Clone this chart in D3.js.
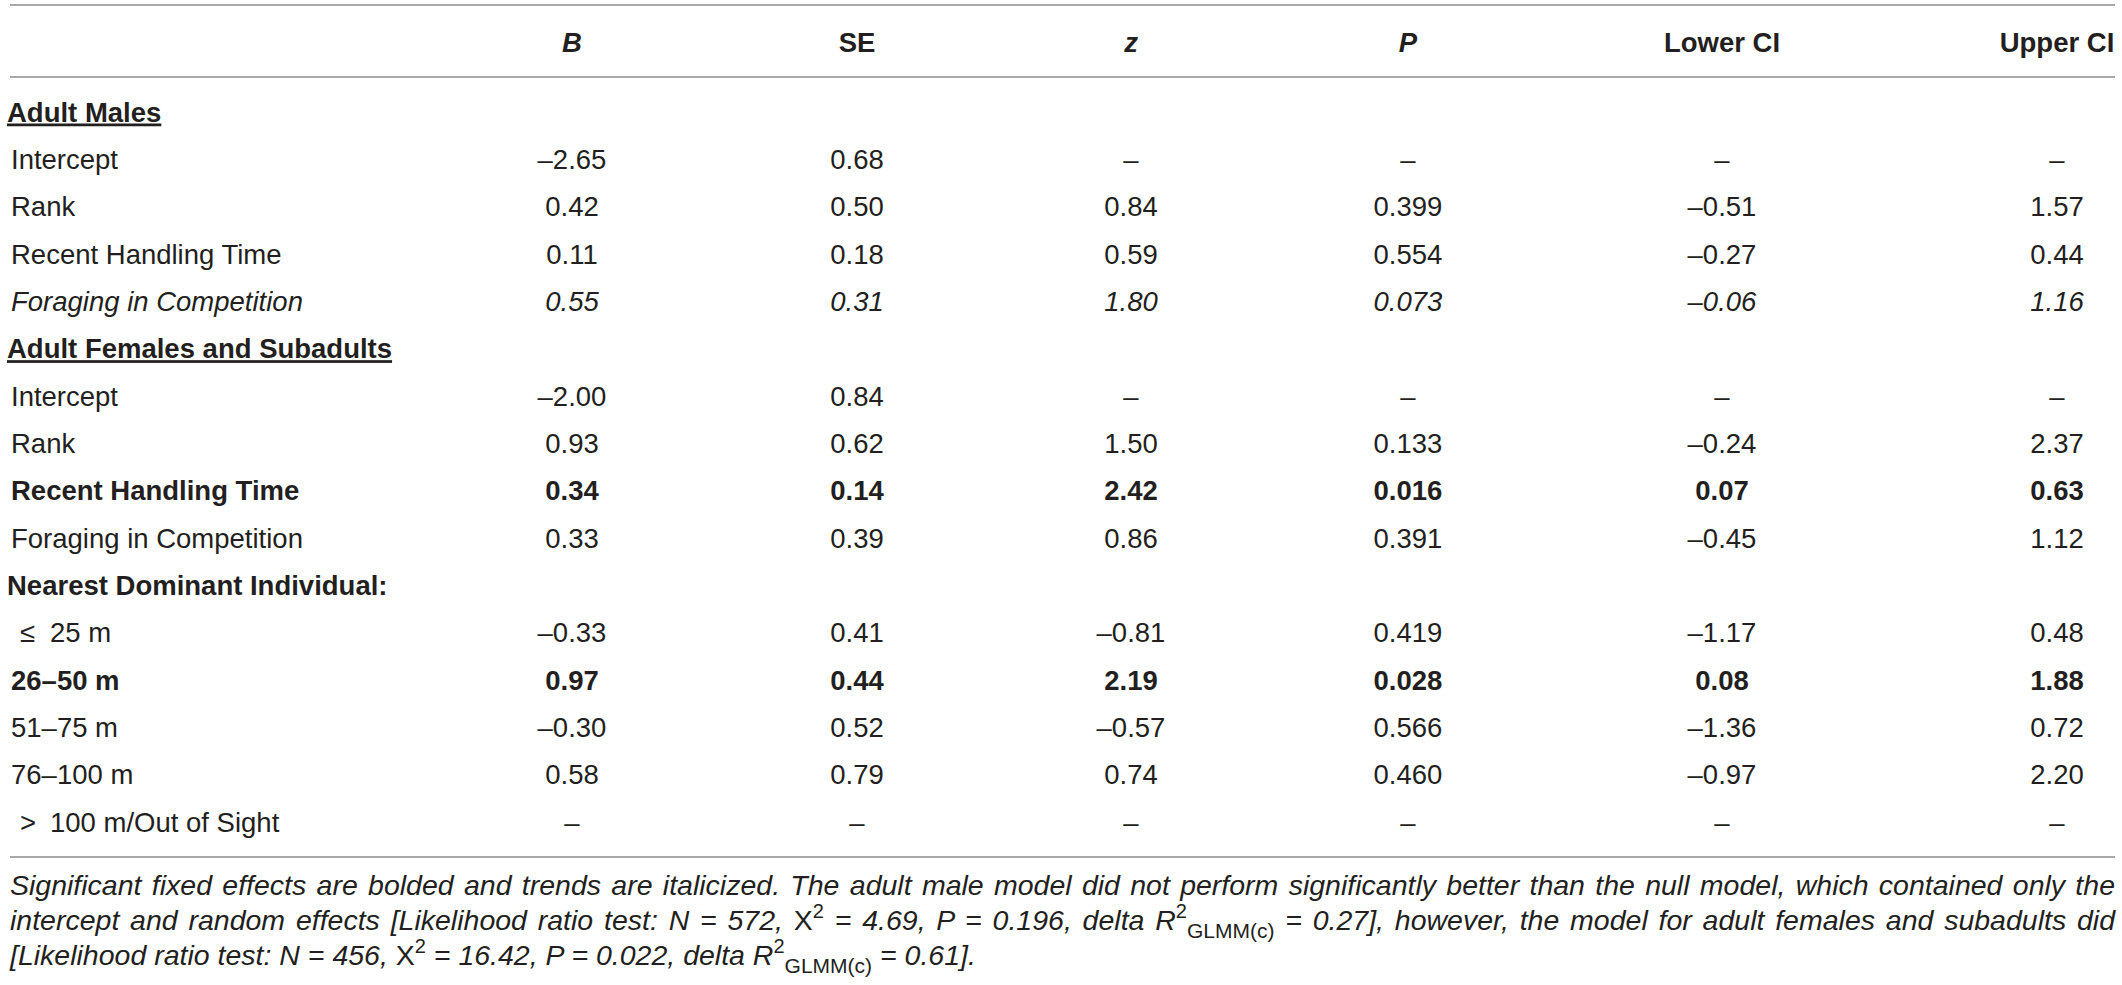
<!DOCTYPE html>
<html>
<head>
<meta charset="utf-8">
<script src="https://cdn.jsdelivr.net/npm/d3@7"></script>
<style>
  html, body { margin: 0; padding: 0; background: #fff; }
  svg { display: block; font-family: "Liberation Sans", Arial, Helvetica, sans-serif; }
</style>
</head>
<body>
<svg id="chart" width="2122" height="985"></svg>
<script>
// table content
const columns = ['B', 'SE', 'z', 'P', 'Lower CI', 'Upper CI'];

const rowLabels = [
  'Adult Males', 'Intercept', 'Rank', 'Recent Handling Time', 'Foraging in Competition',
  'Adult Females and Subadults', 'Intercept', 'Rank', 'Recent Handling Time', 'Foraging in Competition',
  'Nearest Dominant Individual:', '\u2264 25 m', '26\u201350 m', '51\u201375 m', '76\u2013100 m', '> 100 m/Out of Sight'
];
// section = underlined group, subhead = bold heading, trend = italic, significant = bold
const rowKind = [
  'section', 'plain', 'plain', 'plain', 'trend',
  'section', 'plain', 'plain', 'significant', 'plain',
  'subhead', 'plain', 'significant', 'plain', 'plain', 'plain'
];

// null = "–" (not estimated)
const valB     = [null, -2.65, 0.42, 0.11, 0.55, null, -2.00, 0.93, 0.34, 0.33, null, -0.33, 0.97, -0.30, 0.58, null];
const valSE    = [null, 0.68, 0.50, 0.18, 0.31, null, 0.84, 0.62, 0.14, 0.39, null, 0.41, 0.44, 0.52, 0.79, null];
const valZ     = [null, null, 0.84, 0.59, 1.80, null, null, 1.50, 2.42, 0.86, null, -0.81, 2.19, -0.57, 0.74, null];
const valP     = [null, null, 0.399, 0.554, 0.073, null, null, 0.133, 0.016, 0.391, null, 0.419, 0.028, 0.566, 0.460, null];
const valLower = [null, null, -0.51, -0.27, -0.06, null, null, -0.24, 0.07, -0.45, null, -1.17, 0.08, -1.36, -0.97, null];
const valUpper = [null, null, 1.57, 0.44, 1.16, null, null, 2.37, 0.63, 1.12, null, 0.48, 1.88, 0.72, 2.20, null];

const footnoteLines = [
  [['Significant fixed effects are bolded and trends are italicized. The adult male model did not perform significantly better than the null model, which contained only the', 'n']],
  [['intercept and random effects [Likelihood ratio test: N = 572, ', 'n'], ['\u03A7', 'up'], ['2', 'sup'], [' = 4.69, P = 0.196, delta R', 'n'], ['2', 'sup'], ['GLMM(c)', 'sub'], [' = 0.27], however, the model for adult females and subadults did', 'n']],
  [['[Likelihood ratio test: N = 456, ', 'n'], ['\u03A7', 'up'], ['2', 'sup'], [' = 16.42, P = 0.022, delta R', 'n'], ['2', 'sup'], ['GLMM(c)', 'sub'], [' = 0.61].', 'n']]
];

const svg = d3.select('#chart');
const ink = '#231f20';
const rule = '#a8a8a8';
const left = 10, right = 2115;
const fontSize = 27.5;
const noteSize = 28.5;

const locale = d3.formatLocale({ decimal: '.', thousands: ',', grouping: [3], currency: ['', ''], minus: '\u2013' });
const fmt2 = locale.format('.2f');
const fmt3 = locale.format('.3f');

const colValues = [valB, valSE, valZ, valP, valLower, valUpper];
const colFormat = [fmt2, fmt2, fmt2, fmt3, fmt2, fmt2];

const x = d3.scaleOrdinal()
  .domain(columns)
  .range([572, 857, 1131, 1408, 1722, 2057]);

const y = d3.scaleLinear()
  .domain([0, rowLabels.length - 1])
  .range([121.5, 831.5]);

// rules
svg.selectAll('line.rule')
  .data([5, 77, 857])
  .enter()
  .append('line')
  .attr('class', 'rule')
  .attr('x1', left)
  .attr('x2', right)
  .attr('y1', d => d)
  .attr('y2', d => d)
  .attr('stroke', rule)
  .attr('stroke-width', 2);

// header
const italicHeads = new Set(['B', 'z', 'P']);
svg.selectAll('text.head')
  .data(columns)
  .enter()
  .append('text')
  .attr('class', 'head')
  .attr('x', d => x(d))
  .attr('y', 52)
  .attr('text-anchor', 'middle')
  .attr('font-size', fontSize)
  .attr('font-weight', 'bold')
  .attr('font-style', d => italicHeads.has(d) ? 'italic' : 'normal')
  .attr('fill', ink)
  .text(d => d);

// row labels
const rows = rowLabels.map((label, i) => ({ label, kind: rowKind[i], i }));

const labels = svg.selectAll('text.label')
  .data(rows)
  .enter()
  .append('text')
  .attr('class', 'label')
  .attr('y', d => y(d.i))
  .attr('font-size', fontSize)
  .attr('fill', ink)
  .attr('font-weight', d => (d.kind === 'plain' || d.kind === 'trend') ? 'normal' : 'bold')
  .attr('font-style', d => d.kind === 'trend' ? 'italic' : 'normal')
  .style('text-decoration', d => d.kind === 'section' ? 'underline' : 'none')
  .attr('x', d => (d.kind === 'section' || d.kind === 'subhead') ? 7 : 11);

labels.each(function(d) {
  const el = d3.select(this);
  const m = d.label.match(/^([\u2264>]) (.*)$/);
  if (m) {
    el.append('tspan').attr('x', 20).text(m[1]);
    el.append('tspan').attr('x', 50).text(m[2]);
  } else {
    el.text(d.label);
  }
});

// value cells
const cells = [];
rows.forEach(r => {
  if (r.kind === 'section' || r.kind === 'subhead') return;
  columns.forEach((c, j) => {
    const v = colValues[j][r.i];
    cells.push({ col: c, row: r.i, kind: r.kind, text: v == null ? '\u2013' : colFormat[j](v) });
  });
});

svg.selectAll('text.cell')
  .data(cells)
  .enter()
  .append('text')
  .attr('class', 'cell')
  .attr('x', d => x(d.col))
  .attr('y', d => y(d.row))
  .attr('text-anchor', 'middle')
  .attr('font-size', fontSize)
  .attr('fill', ink)
  .attr('font-weight', d => d.kind === 'significant' ? 'bold' : 'normal')
  .attr('font-style', d => d.kind === 'trend' ? 'italic' : 'normal')
  .text(d => d.text);

// footnote, first two lines justified to the table width
const noteY = [895, 930, 965];
footnoteLines.forEach((segs, li) => {
  const t = svg.append('text')
    .attr('x', left)
    .attr('y', noteY[li])
    .attr('font-size', noteSize)
    .attr('font-style', 'italic')
    .attr('fill', ink)
    .attr('xml:space', 'preserve');
  let shift = 0;
  segs.forEach(([str, kind]) => {
    const target = kind === 'sup' ? -12 : kind === 'sub' ? 8 : 0;
    const ts = t.append('tspan')
      .attr('dy', target - shift)
      .text(str);
    if (kind === 'sup') ts.attr('font-size', 20);
    if (kind === 'sub') ts.attr('font-size', 21);
    if (kind !== 'n') ts.attr('font-style', 'normal');
    shift = target;
  });
  if (li < footnoteLines.length - 1) {
    const node = t.node();
    const natural = node.getComputedTextLength();
    const spaces = (node.textContent.match(/ /g) || []).length;
    t.attr('word-spacing', (right - left - natural) / spaces);
  }
});
</script>
</body>
</html>
